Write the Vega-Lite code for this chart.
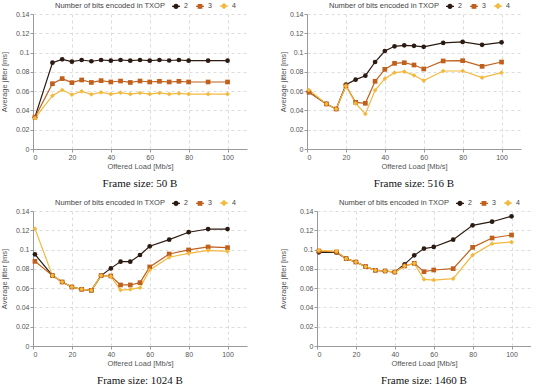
{
  "$schema": "https://vega.github.io/schema/vega-lite/v6.json",
  "padding": {"left": 0, "top": 1, "right": 0, "bottom": 0},
  "datasets": {
    "d50": [
      {"load":1,"bits":"2","jitter":0.033},{"load":10,"bits":"2","jitter":0.0895},{"load":15,"bits":"2","jitter":0.093},{"load":20,"bits":"2","jitter":0.0906},{"load":25,"bits":"2","jitter":0.0923},{"load":30,"bits":"2","jitter":0.091},{"load":35,"bits":"2","jitter":0.0923},{"load":40,"bits":"2","jitter":0.0916},{"load":45,"bits":"2","jitter":0.0923},{"load":50,"bits":"2","jitter":0.0916},{"load":55,"bits":"2","jitter":0.0923},{"load":60,"bits":"2","jitter":0.0916},{"load":65,"bits":"2","jitter":0.0923},{"load":70,"bits":"2","jitter":0.0918},{"load":75,"bits":"2","jitter":0.0923},{"load":80,"bits":"2","jitter":0.0916},{"load":90,"bits":"2","jitter":0.0916},{"load":100,"bits":"2","jitter":0.0916},
      {"load":1,"bits":"3","jitter":0.033},{"load":10,"bits":"3","jitter":0.0677},{"load":15,"bits":"3","jitter":0.073},{"load":20,"bits":"3","jitter":0.0688},{"load":25,"bits":"3","jitter":0.0716},{"load":30,"bits":"3","jitter":0.069},{"load":35,"bits":"3","jitter":0.0709},{"load":40,"bits":"3","jitter":0.0695},{"load":45,"bits":"3","jitter":0.0705},{"load":50,"bits":"3","jitter":0.069},{"load":55,"bits":"3","jitter":0.0705},{"load":60,"bits":"3","jitter":0.0695},{"load":65,"bits":"3","jitter":0.0702},{"load":70,"bits":"3","jitter":0.0695},{"load":75,"bits":"3","jitter":0.0702},{"load":80,"bits":"3","jitter":0.0695},{"load":90,"bits":"3","jitter":0.0695},{"load":100,"bits":"3","jitter":0.0695},
      {"load":1,"bits":"4","jitter":0.032},{"load":10,"bits":"4","jitter":0.0553},{"load":15,"bits":"4","jitter":0.0612},{"load":20,"bits":"4","jitter":0.0563},{"load":25,"bits":"4","jitter":0.0598},{"load":30,"bits":"4","jitter":0.0567},{"load":35,"bits":"4","jitter":0.0588},{"load":40,"bits":"4","jitter":0.057},{"load":45,"bits":"4","jitter":0.0584},{"load":50,"bits":"4","jitter":0.057},{"load":55,"bits":"4","jitter":0.0581},{"load":60,"bits":"4","jitter":0.057},{"load":65,"bits":"4","jitter":0.0581},{"load":70,"bits":"4","jitter":0.057},{"load":75,"bits":"4","jitter":0.0577},{"load":80,"bits":"4","jitter":0.057},{"load":90,"bits":"4","jitter":0.057},{"load":100,"bits":"4","jitter":0.057}
    ],
    "d516": [
      {"load":1,"bits":"2","jitter":0.059},{"load":10,"bits":"2","jitter":0.0467},{"load":15,"bits":"2","jitter":0.0415},{"load":20,"bits":"2","jitter":0.0667},{"load":25,"bits":"2","jitter":0.0719},{"load":30,"bits":"2","jitter":0.076},{"load":35,"bits":"2","jitter":0.0902},{"load":40,"bits":"2","jitter":0.1016},{"load":45,"bits":"2","jitter":0.1065},{"load":50,"bits":"2","jitter":0.1075},{"load":55,"bits":"2","jitter":0.107},{"load":60,"bits":"2","jitter":0.106},{"load":70,"bits":"2","jitter":0.11},{"load":80,"bits":"2","jitter":0.111},{"load":90,"bits":"2","jitter":0.108},{"load":100,"bits":"2","jitter":0.1106},
      {"load":1,"bits":"3","jitter":0.059},{"load":10,"bits":"3","jitter":0.0467},{"load":15,"bits":"3","jitter":0.0415},{"load":20,"bits":"3","jitter":0.0657},{"load":25,"bits":"3","jitter":0.0484},{"load":30,"bits":"3","jitter":0.0474},{"load":35,"bits":"3","jitter":0.0702},{"load":40,"bits":"3","jitter":0.0826},{"load":45,"bits":"3","jitter":0.0888},{"load":50,"bits":"3","jitter":0.0895},{"load":55,"bits":"3","jitter":0.0871},{"load":60,"bits":"3","jitter":0.083},{"load":70,"bits":"3","jitter":0.0913},{"load":80,"bits":"3","jitter":0.0916},{"load":90,"bits":"3","jitter":0.0857},{"load":100,"bits":"3","jitter":0.0902},
      {"load":1,"bits":"4","jitter":0.0612},{"load":10,"bits":"4","jitter":0.0467},{"load":15,"bits":"4","jitter":0.0415},{"load":20,"bits":"4","jitter":0.0653},{"load":25,"bits":"4","jitter":0.0474},{"load":30,"bits":"4","jitter":0.0363},{"load":35,"bits":"4","jitter":0.0608},{"load":40,"bits":"4","jitter":0.0729},{"load":45,"bits":"4","jitter":0.0792},{"load":50,"bits":"4","jitter":0.0802},{"load":55,"bits":"4","jitter":0.0764},{"load":60,"bits":"4","jitter":0.0709},{"load":70,"bits":"4","jitter":0.0809},{"load":80,"bits":"4","jitter":0.0809},{"load":90,"bits":"4","jitter":0.074},{"load":100,"bits":"4","jitter":0.0792}
    ],
    "d1024": [
      {"load":1,"bits":"2","jitter":0.0951},{"load":10,"bits":"2","jitter":0.073},{"load":15,"bits":"2","jitter":0.0664},{"load":20,"bits":"2","jitter":0.0612},{"load":25,"bits":"2","jitter":0.0588},{"load":30,"bits":"2","jitter":0.0577},{"load":35,"bits":"2","jitter":0.073},{"load":40,"bits":"2","jitter":0.0805},{"load":45,"bits":"2","jitter":0.0875},{"load":50,"bits":"2","jitter":0.0875},{"load":55,"bits":"2","jitter":0.0944},{"load":60,"bits":"2","jitter":0.1034},{"load":70,"bits":"2","jitter":0.1103},{"load":80,"bits":"2","jitter":0.118},{"load":90,"bits":"2","jitter":0.1213},{"load":100,"bits":"2","jitter":0.1213},
      {"load":1,"bits":"3","jitter":0.0878},{"load":10,"bits":"3","jitter":0.073},{"load":15,"bits":"3","jitter":0.0664},{"load":20,"bits":"3","jitter":0.0612},{"load":25,"bits":"3","jitter":0.0588},{"load":30,"bits":"3","jitter":0.0577},{"load":35,"bits":"3","jitter":0.073},{"load":40,"bits":"3","jitter":0.0726},{"load":45,"bits":"3","jitter":0.0633},{"load":50,"bits":"3","jitter":0.0633},{"load":55,"bits":"3","jitter":0.0657},{"load":60,"bits":"3","jitter":0.082},{"load":70,"bits":"3","jitter":0.0954},{"load":80,"bits":"3","jitter":0.0996},{"load":90,"bits":"3","jitter":0.1027},{"load":100,"bits":"3","jitter":0.102},
      {"load":1,"bits":"4","jitter":0.1217},{"load":10,"bits":"4","jitter":0.073},{"load":15,"bits":"4","jitter":0.0664},{"load":20,"bits":"4","jitter":0.0612},{"load":25,"bits":"4","jitter":0.0588},{"load":30,"bits":"4","jitter":0.0577},{"load":35,"bits":"4","jitter":0.073},{"load":40,"bits":"4","jitter":0.0722},{"load":45,"bits":"4","jitter":0.058},{"load":50,"bits":"4","jitter":0.0588},{"load":55,"bits":"4","jitter":0.0605},{"load":60,"bits":"4","jitter":0.0788},{"load":70,"bits":"4","jitter":0.092},{"load":80,"bits":"4","jitter":0.0961},{"load":90,"bits":"4","jitter":0.0992},{"load":100,"bits":"4","jitter":0.0982}
    ],
    "d1460": [
      {"load":1,"bits":"2","jitter":0.0971},{"load":10,"bits":"2","jitter":0.097},{"load":15,"bits":"2","jitter":0.0906},{"load":20,"bits":"2","jitter":0.0871},{"load":25,"bits":"2","jitter":0.0823},{"load":30,"bits":"2","jitter":0.0785},{"load":35,"bits":"2","jitter":0.0778},{"load":40,"bits":"2","jitter":0.0767},{"load":45,"bits":"2","jitter":0.0847},{"load":50,"bits":"2","jitter":0.094},{"load":55,"bits":"2","jitter":0.101},{"load":60,"bits":"2","jitter":0.1027},{"load":70,"bits":"2","jitter":0.1103},{"load":80,"bits":"2","jitter":0.1251},{"load":90,"bits":"2","jitter":0.1289},{"load":100,"bits":"2","jitter":0.1345},
      {"load":1,"bits":"3","jitter":0.0985},{"load":10,"bits":"3","jitter":0.0975},{"load":15,"bits":"3","jitter":0.0906},{"load":20,"bits":"3","jitter":0.0871},{"load":25,"bits":"3","jitter":0.0823},{"load":30,"bits":"3","jitter":0.0785},{"load":35,"bits":"3","jitter":0.0778},{"load":40,"bits":"3","jitter":0.0767},{"load":45,"bits":"3","jitter":0.083},{"load":50,"bits":"3","jitter":0.0857},{"load":55,"bits":"3","jitter":0.0771},{"load":60,"bits":"3","jitter":0.0788},{"load":70,"bits":"3","jitter":0.0802},{"load":80,"bits":"3","jitter":0.1023},{"load":90,"bits":"3","jitter":0.112},{"load":100,"bits":"3","jitter":0.1151},
      {"load":1,"bits":"4","jitter":0.0992},{"load":10,"bits":"4","jitter":0.0982},{"load":15,"bits":"4","jitter":0.0906},{"load":20,"bits":"4","jitter":0.0871},{"load":25,"bits":"4","jitter":0.0823},{"load":30,"bits":"4","jitter":0.0785},{"load":35,"bits":"4","jitter":0.0778},{"load":40,"bits":"4","jitter":0.0767},{"load":45,"bits":"4","jitter":0.083},{"load":50,"bits":"4","jitter":0.0857},{"load":55,"bits":"4","jitter":0.0691},{"load":60,"bits":"4","jitter":0.0684},{"load":70,"bits":"4","jitter":0.0698},{"load":80,"bits":"4","jitter":0.0943},{"load":90,"bits":"4","jitter":0.1061},{"load":100,"bits":"4","jitter":0.1078}
    ]
  },
  "columns": 2,
  "align": "none",
  "spacing": {"row": 9, "column": 32},
  "resolve": {"scale": {"color": "independent", "shape": "independent"}, "legend": {"color": "independent", "shape": "independent"}},
  "concat": [
    {
      "width": 214, "height": 135,
      "data": {"name": "d50"},
      "title": {"text": "Frame size: 50 B", "orient": "bottom"},
      "encoding": {
        "x": {"field": "load", "type": "quantitative", "scale": {"domain": [0, 110], "nice": false}, "axis": {"title": "Offered Load [Mb/s]", "values": [0, 20, 40, 60, 80, 100]}},
        "y": {"field": "jitter", "type": "quantitative", "scale": {"domain": [0, 0.14], "nice": false}, "axis": {"title": "Average jitter [ms]", "titlePadding": 7, "values": [0, 0.02, 0.04, 0.06, 0.08, 0.1, 0.12, 0.14], "format": ".2~f"}},
        "color": {"field": "bits", "type": "nominal", "scale": {"domain": ["2", "3", "4"], "range": ["#2a1a12", "#c0601c", "#f3b93e"]},
          "legend": {"orient": "none", "legendX": 22, "legendY": -13, "direction": "horizontal", "titleOrient": "left", "title": "Number of bits encoded in TXOP",
            "encode": {"symbols": {"update": {"size": {"value": 64}, "strokeWidth": {"value": 1.2}, "shape": {"signal": "datum.value == '2' ? 'M-1,0H1M0.5,0A0.5,0.5,0,1,1,-0.5,0A0.5,0.5,0,1,1,0.5,0Z' : datum.value == '3' ? 'M-1,0H1M-0.45,-0.45H0.45V0.45H-0.45Z' : 'M-1,0H1M0,-0.6L0.6,0L0,0.6L-0.6,0Z'"}, "fill": {"signal": "datum.value == '2' ? '#2a1a12' : datum.value == '3' ? '#c0601c' : '#f3b93e'"}, "stroke": {"signal": "datum.value == '2' ? '#2a1a12' : datum.value == '3' ? '#c0601c' : '#f3b93e'"}}}}}}
      },
      "layer": [
        {"mark": {"type": "line", "strokeWidth": 1.2}},
        {"mark": {"type": "point", "filled": true, "opacity": 1, "size": 22}, "encoding": {"shape": {"field": "bits", "type": "nominal", "scale": {"domain": ["4", "3", "2"], "range": ["diamond", "square", "circle"]}, "legend": null}}}
      ]
    },
    {
      "width": 214, "height": 135,
      "data": {"name": "d516"},
      "title": {"text": "Frame size: 516 B", "orient": "bottom"},
      "encoding": {
        "x": {"field": "load", "type": "quantitative", "scale": {"domain": [0, 110], "nice": false}, "axis": {"title": "Offered Load [Mb/s]", "values": [0, 20, 40, 60, 80, 100]}},
        "y": {"field": "jitter", "type": "quantitative", "scale": {"domain": [0, 0.14], "nice": false}, "axis": {"title": "Average jitter [ms]", "values": [0, 0.02, 0.04, 0.06, 0.08, 0.1, 0.12, 0.14], "format": ".2~f"}},
        "color": {"field": "bits", "type": "nominal", "scale": {"domain": ["2", "3", "4"], "range": ["#2a1a12", "#c0601c", "#f3b93e"]},
          "legend": {"orient": "none", "legendX": 22, "legendY": -13, "direction": "horizontal", "titleOrient": "left", "title": "Number of bits encoded in TXOP",
            "encode": {"symbols": {"update": {"size": {"value": 64}, "strokeWidth": {"value": 1.2}, "shape": {"signal": "datum.value == '2' ? 'M-1,0H1M0.5,0A0.5,0.5,0,1,1,-0.5,0A0.5,0.5,0,1,1,0.5,0Z' : datum.value == '3' ? 'M-1,0H1M-0.45,-0.45H0.45V0.45H-0.45Z' : 'M-1,0H1M0,-0.6L0.6,0L0,0.6L-0.6,0Z'"}, "fill": {"signal": "datum.value == '2' ? '#2a1a12' : datum.value == '3' ? '#c0601c' : '#f3b93e'"}, "stroke": {"signal": "datum.value == '2' ? '#2a1a12' : datum.value == '3' ? '#c0601c' : '#f3b93e'"}}}}}}
      },
      "layer": [
        {"mark": {"type": "line", "strokeWidth": 1.2}},
        {"mark": {"type": "point", "filled": true, "opacity": 1, "size": 22}, "encoding": {"shape": {"field": "bits", "type": "nominal", "scale": {"domain": ["4", "3", "2"], "range": ["diamond", "square", "circle"]}, "legend": null}}}
      ]
    },
    {
      "width": 214, "height": 135,
      "data": {"name": "d1024"},
      "title": {"text": "Frame size: 1024 B", "orient": "bottom"},
      "encoding": {
        "x": {"field": "load", "type": "quantitative", "scale": {"domain": [0, 110], "nice": false}, "axis": {"title": "Offered Load [Mb/s]", "values": [0, 20, 40, 60, 80, 100]}},
        "y": {"field": "jitter", "type": "quantitative", "scale": {"domain": [0, 0.14], "nice": false}, "axis": {"title": "Average jitter [ms]", "titlePadding": 7, "values": [0, 0.02, 0.04, 0.06, 0.08, 0.1, 0.12, 0.14], "format": ".2~f"}},
        "color": {"field": "bits", "type": "nominal", "scale": {"domain": ["2", "3", "4"], "range": ["#2a1a12", "#c0601c", "#f3b93e"]},
          "legend": {"orient": "none", "legendX": 22, "legendY": -13, "direction": "horizontal", "titleOrient": "left", "title": "Number of bits encoded in TXOP",
            "encode": {"symbols": {"update": {"size": {"value": 64}, "strokeWidth": {"value": 1.2}, "shape": {"signal": "datum.value == '2' ? 'M-1,0H1M0.5,0A0.5,0.5,0,1,1,-0.5,0A0.5,0.5,0,1,1,0.5,0Z' : datum.value == '3' ? 'M-1,0H1M-0.45,-0.45H0.45V0.45H-0.45Z' : 'M-1,0H1M0,-0.6L0.6,0L0,0.6L-0.6,0Z'"}, "fill": {"signal": "datum.value == '2' ? '#2a1a12' : datum.value == '3' ? '#c0601c' : '#f3b93e'"}, "stroke": {"signal": "datum.value == '2' ? '#2a1a12' : datum.value == '3' ? '#c0601c' : '#f3b93e'"}}}}}}
      },
      "layer": [
        {"mark": {"type": "line", "strokeWidth": 1.2}},
        {"mark": {"type": "point", "filled": true, "opacity": 1, "size": 22}, "encoding": {"shape": {"field": "bits", "type": "nominal", "scale": {"domain": ["4", "3", "2"], "range": ["diamond", "square", "circle"]}, "legend": null}}}
      ]
    },
    {
      "width": 214, "height": 135,
      "data": {"name": "d1460"},
      "title": {"text": "Frame size: 1460 B", "orient": "bottom"},
      "encoding": {
        "x": {"field": "load", "type": "quantitative", "scale": {"domain": [0, 110], "nice": false}, "axis": {"title": "Offered Load [Mb/s]", "values": [0, 20, 40, 60, 80, 100]}},
        "y": {"field": "jitter", "type": "quantitative", "scale": {"domain": [0, 0.14], "nice": false}, "axis": {"title": "Average jitter [ms]", "titlePadding": 12, "values": [0, 0.02, 0.04, 0.06, 0.08, 0.1, 0.12, 0.14], "format": ".2~f"}},
        "color": {"field": "bits", "type": "nominal", "scale": {"domain": ["2", "3", "4"], "range": ["#2a1a12", "#c0601c", "#f3b93e"]},
          "legend": {"orient": "none", "legendX": 22, "legendY": -13, "direction": "horizontal", "titleOrient": "left", "title": "Number of bits encoded in TXOP",
            "encode": {"symbols": {"update": {"size": {"value": 64}, "strokeWidth": {"value": 1.2}, "shape": {"signal": "datum.value == '2' ? 'M-1,0H1M0.5,0A0.5,0.5,0,1,1,-0.5,0A0.5,0.5,0,1,1,0.5,0Z' : datum.value == '3' ? 'M-1,0H1M-0.45,-0.45H0.45V0.45H-0.45Z' : 'M-1,0H1M0,-0.6L0.6,0L0,0.6L-0.6,0Z'"}, "fill": {"signal": "datum.value == '2' ? '#2a1a12' : datum.value == '3' ? '#c0601c' : '#f3b93e'"}, "stroke": {"signal": "datum.value == '2' ? '#2a1a12' : datum.value == '3' ? '#c0601c' : '#f3b93e'"}}}}}}
      },
      "layer": [
        {"mark": {"type": "line", "strokeWidth": 1.2}},
        {"mark": {"type": "point", "filled": true, "opacity": 1, "size": 22}, "encoding": {"shape": {"field": "bits", "type": "nominal", "scale": {"domain": ["4", "3", "2"], "range": ["diamond", "square", "circle"]}, "legend": null}}}
      ]
    }
  ],
  "config": {
    "view": {"stroke": null},
    "font": "Liberation Sans",
    "axis": {"gridDash": [3, 3], "gridColor": "#dcdcdc", "domainColor": "#9a9a9a", "tickColor": "#9a9a9a", "tickSize": 3, "labelFontSize": 7, "labelColor": "#555", "titleFontSize": 7.5, "titleColor": "#555", "titleFontWeight": "normal", "labelPadding": 1, "titlePadding": 2},
    "legend": {"titleFontSize": 7.5, "titleFontWeight": "normal", "titleColor": "#444", "labelFontSize": 7, "labelColor": "#444", "symbolSize": 64, "symbolStrokeWidth": 1.2, "titlePadding": 5, "columnPadding": 5, "labelOffset": 3, "padding": 0},
    "title": {"font": "Liberation Serif", "fontSize": 11, "fontWeight": "normal", "color": "#111", "offset": 8}
  }
}
